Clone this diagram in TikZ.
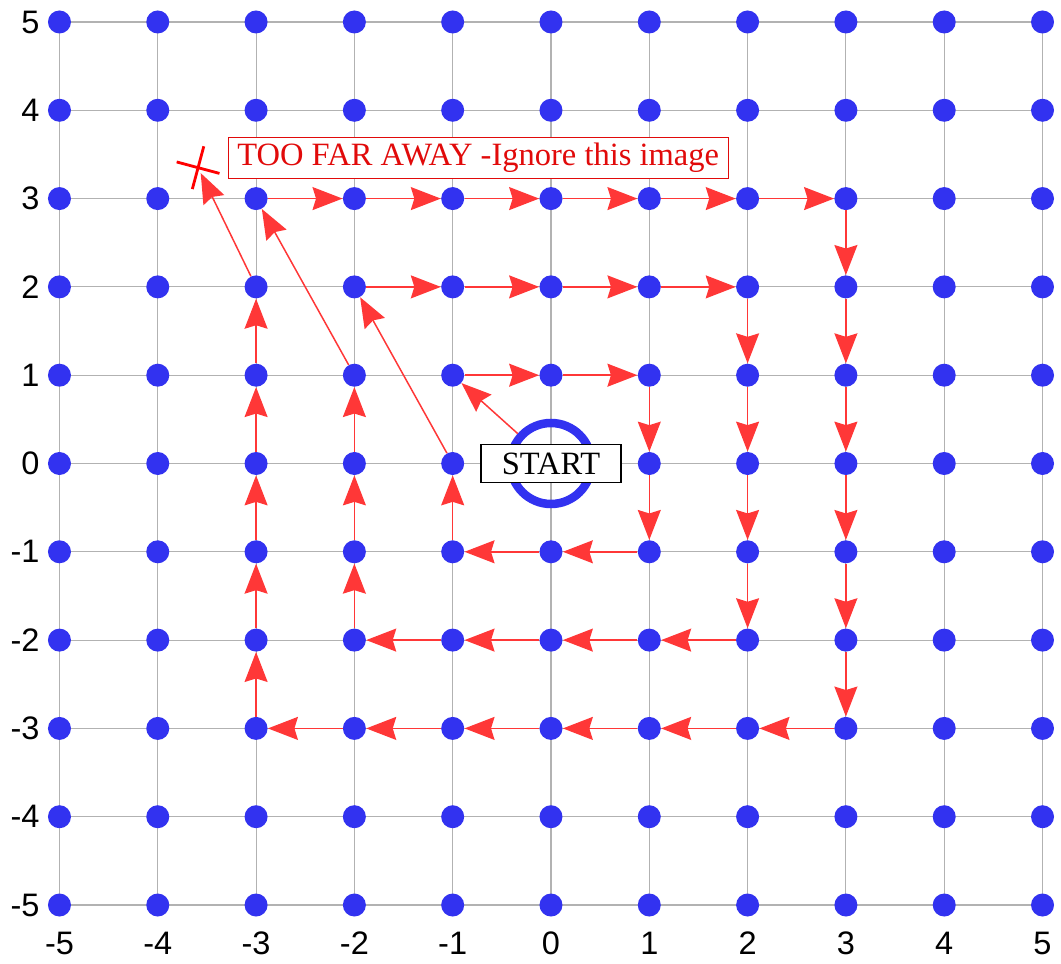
\documentclass[tikz,border=0pt]{standalone}
\usepackage{fontspec}
\setmainfont{Liberation Serif}
\setsansfont{Liberation Sans}
\usetikzlibrary{arrows.meta,shapes.misc}

\definecolor{dotblue}{RGB}{50,50,240}
\definecolor{hopred}{RGB}{255,55,55}
\definecolor{warnred}{RGB}{225,10,10}

\begin{document}
\begin{tikzpicture}[
  x=1.966cm, y=1.766cm,
  gridline/.style={gray!60, line width=0.6pt},
  gdot/.style={circle, fill=dotblue, inner sep=0pt, minimum size=0.46cm},
  hop/.style={hopred, line width=0.85pt, -{Stealth[length=0.6cm, width=0.46cm, inset=0.07cm]}},
  axlabel/.style={font=\sffamily\fontsize{18.5}{20}\selectfont, inner sep=0pt},
  startbox/.style={rectangle, draw=black, line width=0.7pt, fill=white, minimum width=2.8cm, minimum height=0.76cm, font=\fontsize{18.5}{20}\selectfont},
  farbox/.style={rectangle, draw=warnred, line width=0.7pt, fill=white, text=warnred, minimum width=10cm, minimum height=0.8cm, font=\fontsize{18.5}{20}\selectfont},
]
\useasboundingbox (-5.605,-5.657) rectangle (5.188,5.249);

% grid
\foreach \i in {-5,...,5} {
  \draw[gridline] (\i,-5) -- (\i,5);
  \draw[gridline] (-5,\i) -- (5,\i);
}

% dots and axis labels
\foreach \x in {-5,...,5} {
  \foreach \y in {-5,...,5} {
    \node[gdot] (p\x\y) at (\x,\y) {};
  }
  \node[axlabel] (lx\x) at (\x,-5.43) {\x};
  \node[axlabel, anchor=east] (ly\x) at (-5.2,\x) {\x};
}

% spiral, one ring at a time
\foreach \r in {1,2,3} {
  \pgfmathtruncatemacro\lo{-\r}
  \pgfmathtruncatemacro\hi{\r-1}
  \pgfmathtruncatemacro\lp{1-\r}
  \pgfmathtruncatemacro\hm{\r-2}
  % top, left to right
  \foreach \x in {\lo,...,\hi} {
    \pgfmathtruncatemacro\nx{\x+1}
    \draw[hop] (p\x\r) -- (p\nx\r);
  }
  % right, downwards
  \foreach \y in {\r,\hi,...,\lp} {
    \pgfmathtruncatemacro\ny{\y-1}
    \draw[hop] (p\r\y) -- (p\r\ny);
  }
  % bottom, right to left
  \foreach \x in {\r,\hi,...,\lp} {
    \pgfmathtruncatemacro\nx{\x-1}
    \draw[hop] (p\x\lo) -- (p\nx\lo);
  }
  % left, upwards
  \foreach \y in {\lo,...,\hm} {
    \pgfmathtruncatemacro\ny{\y+1}
    \draw[hop] (p\lo\y) -- (p\lo\ny);
  }
}

% start and the jumps out to the next ring
\node[circle, draw=dotblue, line width=0.17cm, minimum size=1.62cm] (ring) at (0,0) {};
\node[cross out, draw=red, line width=1.6pt, minimum size=0.57cm, inner sep=0pt, rotate=30] (far) at (-3.59,3.35) {};
\draw[hop] (ring) -- (p-11);
\draw[hop] (p-10) -- (p-22);
\draw[hop] (p-21) -- (p-33);
\draw[hop, shorten >=0.12cm] (p-32) -- (far.center);

\node[startbox] (start) at (0,0) {START};
\node[farbox] (note) at (-0.74,3.46) {TOO FAR AWAY -Ignore this image};

\end{tikzpicture}
\end{document}
